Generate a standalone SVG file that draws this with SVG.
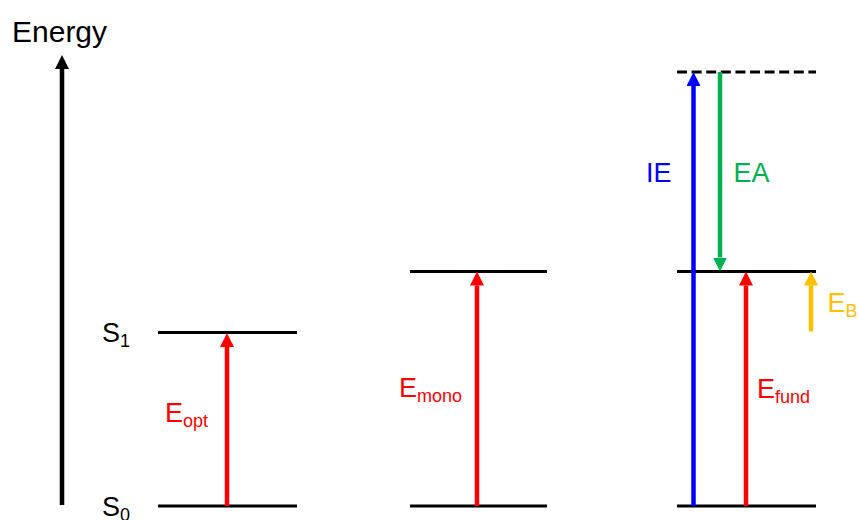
<svg xmlns="http://www.w3.org/2000/svg" width="858" height="520" viewBox="0 0 858 520">
  <style>
    .lvl { stroke: #000; stroke-width: 3; fill: none; }
    .arr { stroke-width: 4.5; fill: none; }
    .lbl { font-family: "Liberation Sans", Arial, sans-serif; font-size: 27px; }
    .sub { font-size: 18px; }
  </style>
  <defs>
    <marker id="hk" viewBox="0 0 14 14" refX="0" refY="7" markerWidth="14" markerHeight="14" markerUnits="userSpaceOnUse" orient="auto"><path d="M0,0 L14,7 L0,14 z" fill="#000"/></marker>
    <marker id="hr" viewBox="0 0 14 14" refX="0" refY="7" markerWidth="14" markerHeight="14" markerUnits="userSpaceOnUse" orient="auto"><path d="M0,0 L14,7 L0,14 z" fill="#FF0000"/></marker>
    <marker id="hb" viewBox="0 0 14 14" refX="0" refY="7" markerWidth="14" markerHeight="14" markerUnits="userSpaceOnUse" orient="auto"><path d="M0,0 L14,7 L0,14 z" fill="#0000FF"/></marker>
    <marker id="hg" viewBox="0 0 14 14" refX="0" refY="7" markerWidth="14" markerHeight="14" markerUnits="userSpaceOnUse" orient="auto"><path d="M0,0 L14,7 L0,14 z" fill="#00B050"/></marker>
    <marker id="hy" viewBox="0 0 14 14" refX="0" refY="7" markerWidth="14" markerHeight="14" markerUnits="userSpaceOnUse" orient="auto"><path d="M0,0 L14,7 L0,14 z" fill="#FFC000"/></marker>
  </defs>
  <rect width="858" height="520" fill="#fff"/>

  <g id="axis">
    <line x1="62" y1="505" x2="62" y2="69" stroke="#000" stroke-width="4.5" marker-end="url(#hk)"/>
    <text class="lbl" x="12" y="42" style="font-size:30px">Energy</text>
  </g>

  <g id="levels-optical">
    <line class="lvl" x1="158" y1="332.5" x2="297" y2="332.5"/>
    <line class="lvl" x1="158" y1="506" x2="297" y2="506"/>
    <text class="lbl" x="102" y="342">S<tspan class="sub" dy="5">1</tspan></text>
    <text class="lbl" x="102" y="516">S<tspan class="sub" dy="5">0</tspan></text>
  </g>

  <g id="levels-mono">
    <line class="lvl" x1="410" y1="271.5" x2="547" y2="271.5"/>
    <line class="lvl" x1="410" y1="506" x2="547" y2="506"/>
  </g>

  <g id="levels-fund">
    <line class="lvl" x1="677" y1="72" x2="816" y2="72" stroke-dasharray="10 4.6"/>
    <line class="lvl" x1="677" y1="271.5" x2="816" y2="271.5"/>
    <line class="lvl" x1="677" y1="506" x2="816" y2="506"/>
  </g>

  <g id="connectors">
    <line class="arr" x1="227" y1="506" x2="227" y2="347" stroke="#FF0000" marker-end="url(#hr)"/>
    <line class="arr" x1="477" y1="506" x2="477" y2="285.5" stroke="#FF0000" marker-end="url(#hr)"/>
    <line class="arr" x1="693.5" y1="506" x2="693.5" y2="86" stroke="#0000FF" marker-end="url(#hb)"/>
    <line class="arr" x1="720" y1="72" x2="720" y2="257.5" stroke="#00B050" marker-end="url(#hg)"/>
    <line class="arr" x1="746" y1="506" x2="746" y2="285.5" stroke="#FF0000" marker-end="url(#hr)"/>
    <line class="arr" x1="811" y1="331.5" x2="811" y2="285.5" stroke="#FFC000" marker-end="url(#hy)"/>
  </g>

  <g id="labels">
    <text class="lbl" x="165" y="422" fill="#FF0000">E<tspan class="sub" dy="5">opt</tspan></text>
    <text class="lbl" x="399" y="397" fill="#FF0000">E<tspan class="sub" dy="5">mono</tspan></text>
    <text class="lbl" x="646" y="181.5" fill="#0000FF">IE</text>
    <text class="lbl" x="733.5" y="181.5" fill="#00B050">EA</text>
    <text class="lbl" x="757" y="398" fill="#FF0000">E<tspan class="sub" dy="5">fund</tspan></text>
    <text class="lbl" x="827.5" y="312" fill="#FFC000">E<tspan class="sub" dy="5">B</tspan></text>
  </g>
</svg>
